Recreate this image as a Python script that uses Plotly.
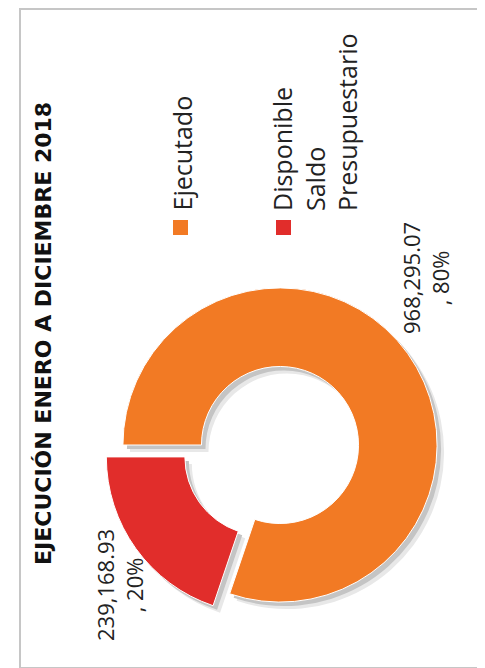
import plotly.graph_objects as go

# datos
categorias = ["Ejecutado", "Disponible Saldo Presupuestario"]
leyenda = ["Ejecutado", "Disponible<br>Saldo<br>Presupuestario"]
montos = [968295.07, 239168.93]
porcentajes = [80, 20]
colores = ["#F27A24", "#E12D2B"]
titulo = "EJECUCIÓN ENERO A DICIEMBRE 2018"

W, H = 485, 668


def fx(x):
    return x / W


def fy(y):
    return 1 - y / H


fig = go.Figure()

# dona (el grafico original esta girado 90 grados)
cx, cy, lado = 272, 437, 355

# sombra suave debajo de la dona
for dx, gris in [(7, "#E8E8E8"), (4, "#C4C4C4")]:
    fig.add_trace(go.Pie(labels=["sombra " + c for c in categorias],
                         values=montos,
                         hole=0.5,
                         sort=False,
                         direction="clockwise",
                         rotation=270,
                         pull=[0, 0.13],
                         marker=dict(colors=[gris, gris], line=dict(width=0)),
                         textinfo="none",
                         hoverinfo="skip",
                         showlegend=False,
                         domain=dict(x=[fx(cx + dx - lado / 2), fx(cx + dx + lado / 2)],
                                     y=[fy(cy + dx + lado / 2), fy(cy + dx - lado / 2)])))

fig.add_trace(go.Pie(labels=categorias,
                     values=montos,
                     hole=0.5,
                     sort=False,
                     direction="clockwise",
                     rotation=270,
                     pull=[0, 0.13],
                     marker=dict(colors=colores,
                                 line=dict(color="white", width=1)),
                     textinfo="none",
                     showlegend=False,
                     domain=dict(x=[fx(cx - lado / 2), fx(cx + lado / 2)],
                                 y=[fy(cy + lado / 2), fy(cy - lado / 2)])))

anotaciones = []
anotaciones.append(dict(text="<b>" + titulo + "</b>", x=fx(35), y=fy(326),
                        xanchor="center", yanchor="middle",
                        textangle=-90, showarrow=False,
                        font=dict(family="DejaVu Sans", size=22, color="#111111")))

# etiquetas de los valores
pos_etiquetas = [(417, 270), (111, 577)]
for i in range(0, len(montos)):
    texto = f"{montos[i]:,.2f}<br>, {porcentajes[i]}%"
    anotaciones.append(dict(text=texto, x=fx(pos_etiquetas[i][0]),
                            y=fy(pos_etiquetas[i][1]),
                            xanchor="center", yanchor="middle",
                            textangle=-90, showarrow=False, align="center",
                            font=dict(family="Open Sans", size=22, color="#222222")))

# leyenda hecha a mano, girada
pos_leyenda = [173, 306]
pos_cuadro = [165, 268]
formas = []
for i in range(0, len(leyenda)):
    anotaciones.append(dict(text=leyenda[i], x=fx(pos_leyenda[i]), y=fy(205),
                            xanchor="center", yanchor="bottom",
                            textangle=-90, showarrow=False, align="left",
                            font=dict(family="Open Sans", size=25, color="#222222")))
    formas.append(dict(type="rect", xref="paper", yref="paper",
                       x0=fx(pos_cuadro[i]), x1=fx(pos_cuadro[i] + 15),
                       y0=fy(227), y1=fy(212),
                       fillcolor=colores[i], line=dict(width=0)))

# marco gris
formas.append(dict(type="rect", xref="paper", yref="paper",
                   x0=fx(12), x1=1.02, y0=fy(660), y1=fy(1),
                   line=dict(color="#C6C6C6", width=2)))

fig.update_layout(width=W, height=H,
                  margin=dict(l=0, r=0, t=0, b=0),
                  paper_bgcolor="white",
                  plot_bgcolor="white",
                  showlegend=False,
                  annotations=anotaciones,
                  shapes=formas)

fig.write_html("out.html")
